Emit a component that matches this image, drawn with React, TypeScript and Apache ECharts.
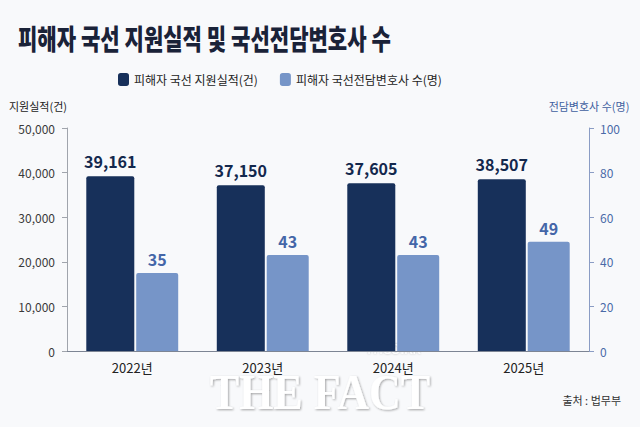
import React, { useEffect, useRef } from 'react';
import * as echarts from 'echarts';

const years = ['2022년', '2023년', '2024년', '2025년'];
const supportCases = [39161, 37150, 37605, 38507];
const lawyerCounts = [35, 43, 43, 49];

const NAVY = '#17305a';
const LIGHT = '#7695c8';
const FONT = '"Noto Sans CJK KR", "Noto Sans", sans-serif';

const fmt = (v: number) => String(v).replace(/\B(?=(\d{3})+(?!\d))/g, ',');

const App: React.FC = () => {
  const chartRef = useRef<HTMLDivElement>(null);

  useEffect(() => {
    document.body.style.margin = '0';
    if (!chartRef.current) return;
    const chart = echarts.init(chartRef.current, null, { renderer: 'svg' });

    const option = {
      animation: false,
      backgroundColor: '#f8f9fb',
      textStyle: { fontFamily: FONT },
      legend: {
        left: 113,
        top: 68,
        icon: 'roundRect',
        itemWidth: 11,
        itemHeight: 13,
        itemGap: 22,
        textStyle: { fontSize: 12, color: '#222', fontFamily: FONT }
      },
      grid: { left: 67, right: 51, top: 128, bottom: 76 },
      xAxis: {
        type: 'category',
        data: years,
        axisTick: { show: false },
        axisLine: { lineStyle: { color: '#7d8594', width: 1 } },
        axisLabel: { fontSize: 13, color: '#222', margin: 10, fontFamily: FONT }
      },
      yAxis: [
        {
          type: 'value',
          min: 0,
          max: 50000,
          interval: 10000,
          name: '지원실적(건)',
          nameGap: 17,
          nameTextStyle: { fontSize: 11, color: '#222', align: 'right', fontFamily: FONT },
          axisLine: { show: true, lineStyle: { color: '#a0a4ac' } },
          axisTick: { show: true, length: 5, lineStyle: { color: '#a0a4ac' } },
          splitLine: { show: false },
          axisLabel: {
            fontSize: 12,
            color: '#3a3a3a',
            margin: 12,
            fontFamily: FONT,
            formatter: (v: number) => fmt(v)
          }
        },
        {
          type: 'value',
          min: 0,
          max: 100,
          interval: 20,
          name: '전담변호사 수(명)',
          nameGap: 17,
          nameTextStyle: { fontSize: 11, color: '#3f5f9f', fontFamily: FONT },
          axisLine: { show: true, lineStyle: { color: '#8a9cc4' } },
          axisTick: { show: true, length: 5, lineStyle: { color: '#8a9cc4' } },
          splitLine: { show: false },
          axisLabel: { fontSize: 12, color: '#4a6aa8', margin: 11, fontFamily: FONT }
        }
      ],
      series: [
        {
          name: '피해자 국선 지원실적(건)',
          type: 'bar',
          yAxisIndex: 0,
          data: supportCases,
          barWidth: 48,
          barGap: '4%',
          itemStyle: { color: NAVY, borderRadius: [2, 2, 0, 0] },
          label: {
            show: true,
            position: 'top',
            distance: 7,
            fontSize: 16,
            fontWeight: 'bold',
            color: '#13284d',
            fontFamily: FONT,
            formatter: (p: any) => fmt(p.value)
          }
        },
        {
          name: '피해자 국선전담변호사 수(명)',
          type: 'bar',
          yAxisIndex: 1,
          data: lawyerCounts,
          barWidth: 42,
          itemStyle: { color: LIGHT, borderRadius: [2, 2, 0, 0] },
          label: {
            show: true,
            position: 'top',
            distance: 6,
            fontSize: 16,
            fontWeight: 'bold',
            color: '#4466a8',
            fontFamily: FONT
          }
        }
      ],
      graphic: [
        {
          type: 'text',
          x: 18,
          y: 38,
          scaleX: 0.78,
          scaleY: 1.05,
          style: {
            text: '피해자 국선 지원실적 및 국선전담변호사 수',
            font: `900 27px ${FONT}`,
            fill: '#1a2238',
            align: 'left',
            verticalAlign: 'middle'
          }
        },
        {
          type: 'text',
          right: 19,
          top: 394,
          style: {
            text: '출처 : 법무부',
            font: `11px ${FONT}`,
            fill: '#333'
          }
        },
        {
          type: 'group',
          z: 100,
          children: [
            {
              type: 'line',
              shape: { x1: 210, y1: 369, x2: 431, y2: 369 },
              style: { stroke: '#ffffff', lineWidth: 1.5, shadowColor: 'rgba(0,0,0,0.2)', shadowBlur: 2 }
            },
            {
              type: 'line',
              shape: { x1: 210, y1: 417, x2: 431, y2: 417 },
              style: { stroke: '#ffffff', lineWidth: 1.5, shadowColor: 'rgba(0,0,0,0.2)', shadowBlur: 2 }
            },
            {
              type: 'text',
              x: 320,
              y: 392,
              scaleY: 1.15,
              style: {
                text: 'THE FACT',
                font: 'bold 44px "Liberation Serif", serif',
                fill: '#ffffff',
                align: 'center',
                verticalAlign: 'middle',
                textShadowColor: 'rgba(0,0,0,0.35)',
                textShadowBlur: 2,
                textShadowOffsetX: 1,
                textShadowOffsetY: 1
              }
            },
            {
              type: 'text',
              x: 393,
              y: 348,
              style: {
                text: 'TF.CO.KR',
                font: `13px ${FONT}`,
                fill: '#ffffff',
                align: 'center',
                verticalAlign: 'middle',
                textShadowColor: 'rgba(0,0,0,0.3)',
                textShadowBlur: 2
              }
            }
          ]
        }
      ]
    };

    chart.setOption(option);
    return () => {
      chart.dispose();
    };
  }, []);

  return <div ref={chartRef} style={{ width: '640px', height: '427px' }} />;
};

export default App;
